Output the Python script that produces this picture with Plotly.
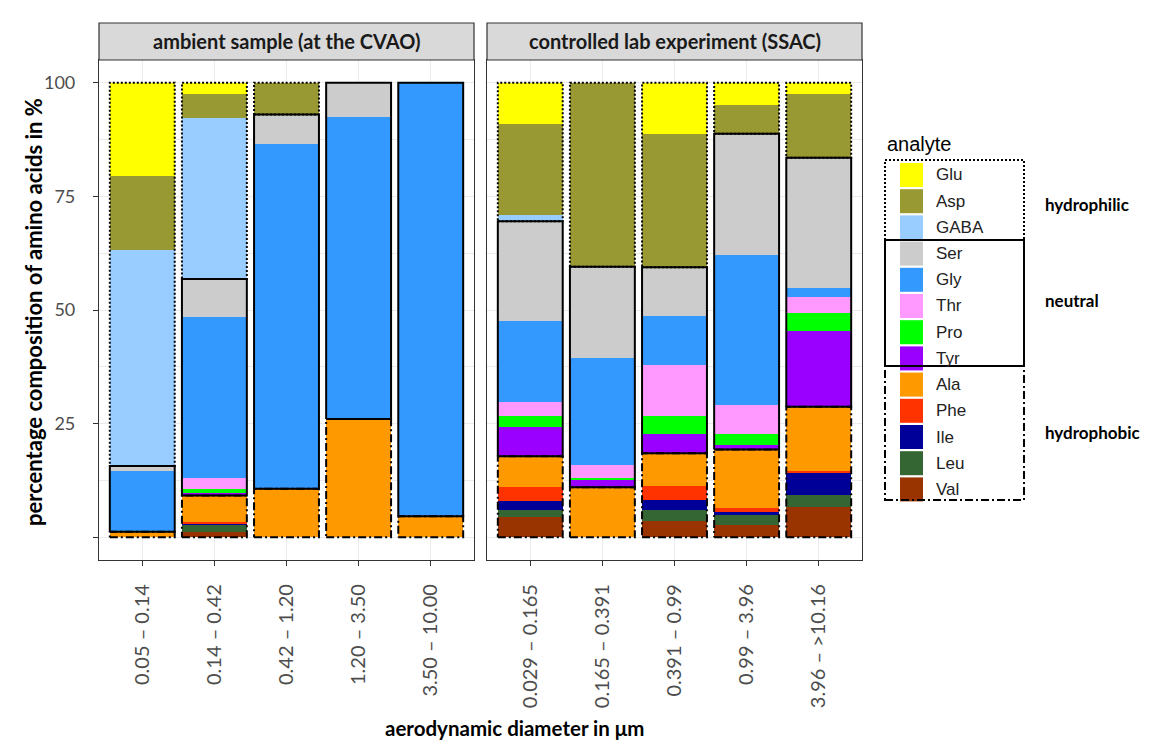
import plotly.graph_objects as go

# ---------------- data ----------------
analytes = ["Glu", "Asp", "GABA", "Ser", "Gly", "Thr", "Pro", "Tyr",
            "Ala", "Phe", "Ile", "Leu", "Val"]
groups = ["hydrophilic"] * 3 + ["neutral"] * 5 + ["hydrophobic"] * 5
colors = ["#FFFF00", "#999933", "#99CCFF", "#CCCCCC", "#3399FF", "#FF99FF",
          "#00FF00", "#9900FF", "#FF9900", "#FF3300", "#000099", "#336633",
          "#993300"]

ambient_sizes = ["0.05 – 0.14", "0.14 – 0.42", "0.42 – 1.20", "1.20 – 3.50",
                 "3.50 – 10.00"]
lab_sizes = ["0.029 – 0.165", "0.165 – 0.391", "0.391 – 0.99", "0.99 – 3.96",
             "3.96 – >10.16"]

# percentage per analyte for each size bin
ambient = {
    "Glu":  [20.5, 2.5, 0.0, 0.0, 0.0],
    "Asp":  [16.4, 5.2, 7.0, 0.0, 0.0],
    "GABA": [47.4, 35.5, 0.0, 0.0, 0.0],
    "Ser":  [1.2, 8.3, 6.4, 7.5, 0.0],
    "Gly":  [13.3, 35.5, 75.9, 66.5, 95.4],
    "Thr":  [0.0, 2.4, 0.0, 0.0, 0.0],
    "Pro":  [0.0, 0.9, 0.0, 0.0, 0.0],
    "Tyr":  [0.0, 0.5, 0.0, 0.0, 0.0],
    "Ala":  [1.2, 5.9, 10.7, 26.0, 4.6],
    "Phe":  [0.0, 0.2, 0.0, 0.0, 0.0],
    "Ile":  [0.0, 0.5, 0.0, 0.0, 0.0],
    "Leu":  [0.0, 1.4, 0.0, 0.0, 0.0],
    "Val":  [0.0, 1.2, 0.0, 0.0, 0.0],
}
lab = {
    "Glu":  [9.1, 0.0, 11.2, 4.8, 2.4],
    "Asp":  [20.1, 40.5, 29.4, 6.4, 14.1],
    "GABA": [1.3, 0.0, 0.0, 0.0, 0.0],
    "Ser":  [21.9, 20.1, 10.7, 26.8, 28.7],
    "Gly":  [17.9, 23.6, 10.7, 32.8, 1.9],
    "Thr":  [3.1, 2.8, 11.4, 6.5, 3.6],
    "Pro":  [2.4, 0.5, 3.9, 2.5, 3.9],
    "Tyr":  [6.4, 1.5, 4.2, 0.9, 16.7],
    "Ala":  [6.8, 11.0, 7.3, 12.9, 14.2],
    "Phe":  [3.0, 0.0, 3.0, 0.9, 0.3],
    "Ile":  [2.0, 0.0, 2.2, 0.7, 5.0],
    "Leu":  [1.6, 0.0, 2.5, 2.1, 2.6],
    "Val":  [4.4, 0.0, 3.5, 2.7, 6.6],
}
panel_titles = ["ambient sample (at the CVAO)", "controlled lab experiment (SSAC)"]

# ---------------- styling ----------------
W, H = 1150, 751
def px(x):
    return x / W
def py(y):
    return 1 - y / H

BAR_W = 0.9
group_dash = {"hydrophilic": "2px,2px", "neutral": "solid", "hydrophobic": "8px,3px,2px,3px"}
FONT = "Lato"

fig = go.Figure()

panels = [(ambient, ambient_sizes, "x", "y"), (lab, lab_sizes, "x2", "y2")]
stack_order = analytes[::-1]  # bottom to top: Val ... Glu

for data, sizes, xa, ya in panels:
    xs = list(range(len(sizes)))
    for a in stack_order:
        fig.add_trace(go.Bar(
            x=xs, y=data[a], width=BAR_W, name=a,
            marker=dict(color=colors[analytes.index(a)], line=dict(width=0)),
            xaxis=xa, yaxis=ya, showlegend=False,
            hovertemplate=a + ": %{y}%<extra></extra>"))
    # group outlines computed from stacked values
    for i in xs:
        bottom = 0.0
        for g in ["hydrophobic", "neutral", "hydrophilic"]:
            members = [a for a, gg in zip(analytes, groups) if gg == g]
            total = sum(data[a][i] for a in members)
            if total > 0:
                top = bottom + total
                x0, x1 = i - BAR_W / 2, i + BAR_W / 2
                fig.add_trace(go.Scatter(
                    x=[x0, x1, x1, x0, x0], y=[bottom, bottom, top, top, bottom],
                    mode="lines", line=dict(color="black", width=2, dash=group_dash[g]),
                    xaxis=xa, yaxis=ya, showlegend=False, hoverinfo="skip"))
                bottom = top

grid = "#EBEBEB"
ydom = [py(552), py(52)]
common_x = dict(range=[-0.6, 4.6], tickvals=list(range(5)), tickangle=-90,
                showgrid=True, gridcolor=grid, gridwidth=1.1, zeroline=False,
                showline=True, linecolor="#333333", linewidth=1.2, mirror=True,
                ticks="outside", ticklen=5, tickcolor="#333333",
                ticklabelstandoff=10, automargin=False,
                tickfont=dict(family=FONT, size=20, color="#4D4D4D"))
common_y = dict(range=[-5, 105], tickvals=[0, 25, 50, 75, 100],
                showgrid=True, gridcolor=grid, gridwidth=1.1, zeroline=False,
                showline=True, linecolor="#333333", linewidth=1.2, mirror=True,
                minor=dict(tickvals=[12.5, 37.5, 62.5, 87.5], showgrid=True,
                           gridcolor=grid, gridwidth=0.6, ticklen=0),
                domain=ydom, automargin=False)

fig.update_layout(
    width=W, height=H, autosize=False,
    margin=dict(l=0, r=0, t=0, b=0, pad=0),
    paper_bgcolor="white", plot_bgcolor="white",
    barmode="stack", bargap=0,
    showlegend=False,
    xaxis=dict(common_x, domain=[px(91), px(466)], ticktext=ambient_sizes, anchor="y"),
    xaxis2=dict(common_x, domain=[px(479), px(854)], ticktext=lab_sizes, anchor="y2"),
    yaxis=dict(common_y, anchor="x", ticks="outside", ticklen=5, tickcolor="#333333",
               ticktext=["", "25", "50", "75", "100"], ticklabelstandoff=14,
               tickfont=dict(family=FONT, size=18, color="#4D4D4D")),
    yaxis2=dict(common_y, anchor="x2", matches="y", showticklabels=False, ticks=""),
)

shapes = []
annotations = []
# facet strips
for xr, title in zip(["x domain", "x2 domain"], panel_titles):
    shapes.append(dict(type="rect", xref=xr, yref="paper", x0=0, x1=1,
                       y0=py(52), y1=py(15), fillcolor="#D9D9D9",
                       line=dict(color="#333333", width=1.2), layer="above"))
    annotations.append(dict(xref=xr, yref="paper", x=0.5, y=py(33.5),
                            text="<b>" + title + "</b>", showarrow=False,
                            font=dict(family=FONT, size=20, color="#1A1A1A"),
                            xanchor="center", yanchor="middle"))

# axis titles
annotations.append(dict(xref="paper", yref="paper", x=px(506), y=py(720),
                        text="<b>aerodynamic diameter in μm</b>", showarrow=False,
                        font=dict(family=FONT, size=20.5, color="black"),
                        xanchor="center", yanchor="middle"))
annotations.append(dict(xref="paper", yref="paper", x=px(25), y=py(304),
                        text="<b>percentage composition of amino acids in %</b>",
                        showarrow=False, textangle=-90,
                        font=dict(family=FONT, size=22, color="black"),
                        xanchor="center", yanchor="middle"))

# legend (manual, built from analytes/colors/groups)
row0, step = 167, 26.2
key_x0, key_x1 = 892, 915
annotations.append(dict(xref="paper", yref="paper", x=px(877), y=py(136),
                        text="analyte", showarrow=False,
                        font=dict(family="Liberation Sans", size=20, color="black"),
                        xanchor="left", yanchor="middle"))
for k, (a, c) in enumerate(zip(analytes, colors)):
    yc = row0 + k * step
    shapes.append(dict(type="rect", xref="paper", yref="paper",
                       x0=px(key_x0), x1=px(key_x1), y0=py(yc + 12), y1=py(yc - 12),
                       fillcolor=c, line=dict(width=0)))
    annotations.append(dict(xref="paper", yref="paper", x=px(926), y=py(yc),
                            text=a, showarrow=False,
                            font=dict(family="Liberation Sans", size=17, color="#222222"),
                            xanchor="left", yanchor="middle"))
# group boxes and labels in legend
box_edges = {"hydrophilic": (152, 232), "neutral": (232, 358), "hydrophobic": (358, 492)}
label_y = {"hydrophilic": 196, "neutral": 292, "hydrophobic": 424}
for g, (t, b) in box_edges.items():
    shapes.append(dict(type="rect", xref="paper", yref="paper",
                       x0=px(877), x1=px(1016), y0=py(b), y1=py(t),
                       line=dict(color="black", width=2, dash=group_dash[g])))
    annotations.append(dict(xref="paper", yref="paper", x=px(1035), y=py(label_y[g]),
                            text="<b>" + g + "</b>", showarrow=False,
                            font=dict(family=FONT, size=17, color="black"),
                            xanchor="left", yanchor="middle"))

fig.update_layout(shapes=shapes, annotations=annotations)
fig.write_html("out.html")
